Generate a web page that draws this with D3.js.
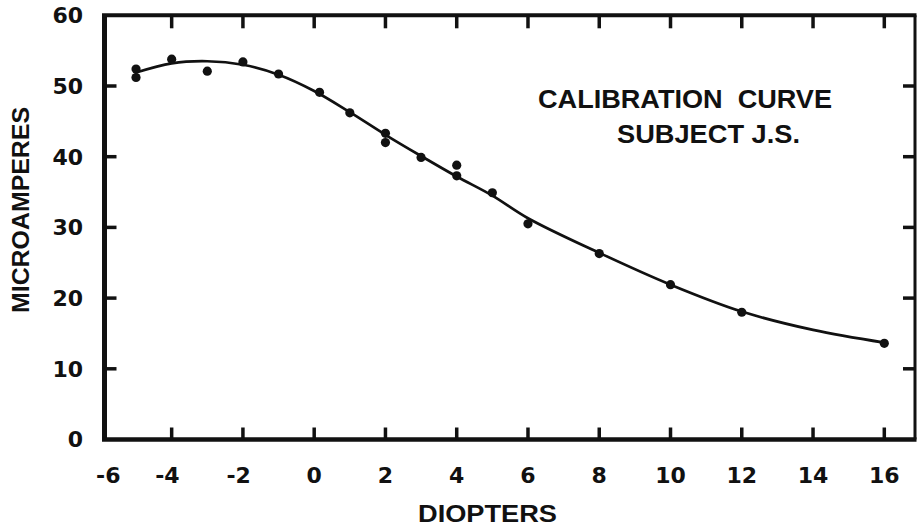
<!DOCTYPE html>
<html>
<head>
<meta charset="utf-8">
<script src="https://cdn.jsdelivr.net/npm/d3@7"></script>
<style>
  html, body { margin: 0; padding: 0; background: #fff; }
  svg { display: block; }
  text { fill: #111; }
</style>
</head>
<body>
<svg id="chart" width="918" height="526"></svg>
<script>
// ---- data ----
const xTickValues = [-6, -4, -2, 0, 2, 4, 6, 8, 10, 12, 14, 16];
const xTickLabels = ["-6", "-4", "-2", "0", "2", "4", "6", "8", "10", "12", "14", "16"];
const yTickValues = [0, 10, 20, 30, 40, 50, 60];
const yTickLabels = ["0", "10", "20", "30", "40", "50", "60"];

// measured points (diopters, microamperes)
const pointDiopters = [-5, -5, -4, -3, -2, -1, 0.15, 1, 2, 2, 3, 4, 4, 5, 6, 8, 10, 12, 16];
const pointMicroamps = [52.4, 51.2, 53.8, 52.1, 53.4, 51.7, 49.1, 46.2, 43.3, 42.0, 39.9, 38.8, 37.3, 34.9, 30.5, 26.3, 21.9, 18.0, 13.6];

// fitted calibration curve
const curveDiopters = [-5, -4, -3, -2, -1, 0, 1, 2, 3, 4, 5, 6, 8, 10, 12, 14, 16];
const curveMicroamps = [51.9, 53.2, 53.5, 53.0, 51.6, 49.3, 46.3, 43.1, 40.1, 37.2, 34.5, 31.3, 26.4, 21.9, 18.1, 15.5, 13.7];

const titleLines = ["CALIBRATION  CURVE", "SUBJECT J.S."];
const xTitle = "DIOPTERS";
const yTitle = "MICROAMPERES";

// ---- layout ----
const frame = { left: 104.5, right: 915, top: 15.3, bottom: 439.5 };
const svg = d3.select("#chart");

const x = d3.scaleLinear().domain([-6, 16]).range([100.4, 884.3]);
const y = d3.scaleLinear().domain([0, 60]).range([frame.bottom, frame.top]);

const ink = "#111";
const tickLen = 12;

// frame lines (different weights like the original)
const frameLines = [
  { x1: frame.left, y1: frame.top, x2: frame.left, y2: frame.bottom, w: 5 },
  { x1: frame.left - 2.5, y1: frame.bottom, x2: frame.right + 1.5, y2: frame.bottom, w: 4.5 },
  { x1: frame.left - 2.5, y1: frame.top, x2: frame.right + 1.5, y2: frame.top, w: 4 },
  { x1: frame.right, y1: frame.top, x2: frame.right, y2: frame.bottom, w: 3 }
];
svg.append("g").selectAll("line").data(frameLines).join("line")
  .attr("x1", d => d.x1).attr("y1", d => d.y1)
  .attr("x2", d => d.x2).attr("y2", d => d.y2)
  .attr("stroke", ink).attr("stroke-width", d => d.w);

// x ticks (bottom and top, inward)
const innerX = xTickValues.filter(v => x(v) > frame.left + 5 && x(v) < frame.right - 5);
const gTicks = svg.append("g").attr("stroke", ink).attr("stroke-width", 3.5);
gTicks.selectAll("line.xb").data(innerX).join("line").attr("class", "xb")
  .attr("x1", d => x(d)).attr("x2", d => x(d))
  .attr("y1", frame.bottom).attr("y2", frame.bottom - tickLen);
gTicks.selectAll("line.xt").data(innerX).join("line").attr("class", "xt")
  .attr("x1", d => x(d)).attr("x2", d => x(d))
  .attr("y1", frame.top).attr("y2", frame.top + tickLen + 1);

// y ticks (left and right, inward)
const innerY = yTickValues.filter(v => v > 0 && v < 60);
gTicks.selectAll("line.yl").data(innerY).join("line").attr("class", "yl")
  .attr("x1", frame.left).attr("x2", frame.left + tickLen)
  .attr("y1", d => y(d)).attr("y2", d => y(d));
gTicks.selectAll("line.yr").data(innerY).join("line").attr("class", "yr")
  .attr("x1", frame.right).attr("x2", frame.right - tickLen)
  .attr("y1", d => y(d)).attr("y2", d => y(d));

// tick labels
const numFont = "'DejaVu Sans', sans-serif";
svg.append("g").selectAll("text").data(xTickValues).join("text")
  .attr("x", (d) => {
    const px = Math.max(x(d), frame.left + 8);
    return d < 0 ? px + 8 : px;
  })
  .attr("y", 483)
  .attr("text-anchor", d => d < 0 ? "end" : "middle")
  .attr("font-family", numFont).attr("font-weight", "bold").attr("font-size", 22)
  .text((d, i) => xTickLabels[i]);

svg.append("g").selectAll("text").data(yTickValues).join("text")
  .attr("x", 83)
  .attr("y", d => y(d))
  .attr("dy", "0.36em")
  .attr("text-anchor", "end")
  .attr("font-family", numFont).attr("font-weight", "bold").attr("font-size", 22)
  .text((d, i) => yTickLabels[i]);

// axis titles
const wordFont = "'Liberation Sans', Arial, sans-serif";
svg.append("text")
  .attr("x", 418).attr("y", 521.5)
  .attr("textLength", 139).attr("lengthAdjust", "spacingAndGlyphs")
  .attr("font-family", wordFont).attr("font-weight", "bold").attr("font-size", 23)
  .text(xTitle);

svg.append("text")
  .attr("transform", "translate(28.5,313) rotate(-90)")
  .attr("textLength", 206).attr("lengthAdjust", "spacingAndGlyphs")
  .attr("font-family", wordFont).attr("font-weight", "bold").attr("font-size", 24)
  .text(yTitle);

// annotation
const annot = [
  { text: titleLines[0], x: 538, y: 107.5, len: 294 },
  { text: titleLines[1], x: 617, y: 143.3, len: 183 }
];
svg.append("g").selectAll("text").data(annot).join("text")
  .attr("x", d => d.x).attr("y", d => d.y)
  .attr("textLength", d => d.len).attr("lengthAdjust", "spacingAndGlyphs")
  .attr("font-family", wordFont).attr("font-weight", "bold").attr("font-size", 25)
  .style("white-space", "pre")
  .text(d => d.text);

// curve
const curveData = curveDiopters.map((d, i) => [d, curveMicroamps[i]]);
svg.append("path")
  .datum(curveData)
  .attr("fill", "none").attr("stroke", ink).attr("stroke-width", 2.7)
  .attr("stroke-linecap", "round")
  .attr("d", d3.line().x(d => x(d[0])).y(d => y(d[1])).curve(d3.curveCatmullRom.alpha(0.5)));

// points
const pts = pointDiopters.map((d, i) => [d, pointMicroamps[i]]);
svg.append("g").selectAll("circle").data(pts).join("circle")
  .attr("cx", d => x(d[0])).attr("cy", d => y(d[1])).attr("r", 4.6)
  .attr("fill", ink);
</script>
</body>
</html>
